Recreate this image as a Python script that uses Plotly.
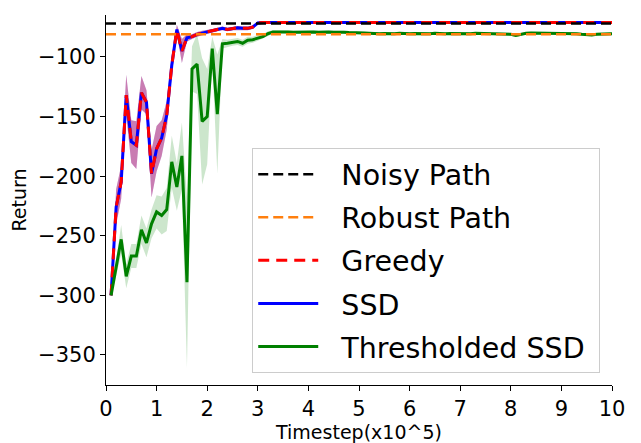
import plotly.graph_objects as go

# ---------------- data ----------------
timesteps = [round(0.1 * i, 1) for i in range(1, 101)]  # x10^5

noisy_path_return = -72.0
robust_path_return = -81.0

ssd_mean = [
    -300, -226, -205, -132, -171, -174, -130, -138, -198, -177,
    -168, -149, -107, -77, -95, -84, -83, -81, -80, -79,
    -78, -77, -76, -77, -76, -75.5, -76, -76, -75, -71.5,
    -71, -71, -71.2, -71, -70.8, -71, -71, -71.2, -71, -71,
    -70.8, -71, -71, -71, -71.2, -71, -71, -70.8, -71, -71,
    -71, -71.2, -71, -71, -71, -70.8, -71, -71, -71, -71.2,
    -71, -71, -71, -71, -70.8, -71, -71, -71.2, -71, -71,
    -71, -71, -70.8, -71, -71, -71, -71.2, -71, -71, -71,
    -71, -70.8, -71, -71, -71, -71, -71.2, -71, -71, -71,
    -71, -71, -70.8, -71, -71, -71, -71, -71.2, -71, -71,
]
ssd_std = [
    1, 15, 14, 17, 18, 20, 14, 10, 20, 19,
    15, 12, 8, 4, 10, 3, 2, 2, 2, 1.5,
    1.5, 1.5, 1.5, 1.5, 1.5, 1.5, 1.5, 1.5, 1.5, 1,
] + [0.8] * 70

greedy_mean = list(ssd_mean)
greedy_std = list(ssd_std)

thr_mean = [
    -300, -276, -253, -284, -267, -267, -245, -256, -240, -230,
    -233, -228, -188, -209, -183, -289, -110, -106, -154, -150,
    -93, -148, -89, -88.5, -87.5, -87, -88.5, -86, -85.5, -84,
    -83, -80.5, -79, -79, -78.8, -79, -79.2, -79, -78.8, -79,
    -79, -79.2, -79, -79, -79.3, -79, -79.2, -79.5, -79.5, -79.8,
    -80, -80.2, -80.5, -80.5, -80.3, -80.5, -80.5, -80.2, -80.5, -80.5,
    -80.3, -80.5, -80.5, -80.5, -80.2, -80.5, -80.5, -80.3, -80.5, -80.5,
    -80.3, -80.5, -80.2, -80.3, -80, -80, -80.2, -80.3, -80.5, -81,
    -82, -81, -80.2, -80, -80, -80.2, -80, -80, -80.3, -80.2,
    -80, -80.3, -80.5, -81, -81.5, -81.5, -81, -80.8, -80.5, -80.5,
]
thr_std = [
    1, 8, 12, 10, 10, 10, 12, 12, 12, 14,
    16, 18, 22, 20, 28, 72, 19, 25, 53, 40,
    10, 50, 4, 3, 3, 3, 3, 3, 2.5, 2.5,
    2, 2, 1.5,
] + [1.2] * 67

x_range = [0, 10]
y_range = [-375.2, -64.8]
x_ticks = list(range(0, 11))
y_ticks = [-350, -300, -250, -200, -150, -100]

# ---------------- figure ----------------
fig = go.Figure()


def band(mean, std, color):
    upper = [m + s for m, s in zip(mean, std)]
    lower = [m - s for m, s in zip(mean, std)]
    return go.Scatter(
        x=timesteps + timesteps[::-1],
        y=upper + lower[::-1],
        fill="toself",
        fillcolor=color,
        line=dict(width=0),
        hoverinfo="skip",
        showlegend=False,
        mode="lines",
    )


fig.add_trace(band(ssd_mean, ssd_std, "rgba(0,0,255,0.3)"))
fig.add_trace(band(greedy_mean, greedy_std, "rgba(255,0,0,0.3)"))
fig.add_trace(band(thr_mean, thr_std, "rgba(0,128,0,0.2)"))

pad = "\u00a0\u00a0"
tail = "\u00a0"
fig.add_trace(go.Scatter(
    x=timesteps, y=ssd_mean, mode="lines", name=pad + "SSD" + tail,
    line=dict(color="#0000ff", width=3), legendrank=4, legendgroup="g4"))
fig.add_trace(go.Scatter(
    x=timesteps, y=greedy_mean, mode="lines", name=pad + "Greedy" + tail,
    line=dict(color="#ff0000", width=3, dash="11px,7px"), legendrank=3, legendgroup="g3"))
fig.add_trace(go.Scatter(
    x=timesteps, y=thr_mean, mode="lines", name=pad + "Thresholded SSD" + tail,
    line=dict(color="#008000", width=3), legendrank=5, legendgroup="g5"))
fig.add_trace(go.Scatter(
    x=x_range, y=[noisy_path_return] * 2, mode="lines", name=pad + "Noisy Path" + tail,
    line=dict(color="#000000", width=2.5, dash="10px,5px"), legendrank=1, legendgroup="g1"))
fig.add_trace(go.Scatter(
    x=x_range, y=[robust_path_return] * 2, mode="lines", name=pad + "Robust Path" + tail,
    line=dict(color="#ff7f0e", width=2.5, dash="10px,5px"), legendrank=2, legendgroup="g2"))

axis_common = dict(
    showline=True, linecolor="#000000", linewidth=1,
    ticks="outside", ticklen=5, tickwidth=1, tickcolor="#000000",
    showgrid=False, zeroline=False, mirror=False, automargin=False,
    tickfont=dict(size=21, color="#000000"),
)

fig.update_xaxes(
    range=x_range, tickvals=x_ticks,
    title=dict(text="Timestep(x10^5)", font=dict(size=19, color="#000000"), standoff=2),
    **axis_common)
fig.update_yaxes(
    range=y_range, tickvals=y_ticks,
    title=dict(text="Return", font=dict(size=19, color="#000000"), standoff=8),
    **axis_common)

# page body has an 8px margin: size the figure so the plot area lands at 106..612 x 15..385
fig.update_layout(
    width=633, height=435,
    margin=dict(l=98, r=29, t=7, b=58),
    plot_bgcolor="white", paper_bgcolor="white",
    font=dict(family="DejaVu Sans", color="#000000"),
    legend=dict(
        x=0.289, y=0.64, xanchor="left", yanchor="top",
        bgcolor="white", bordercolor="#cccccc", borderwidth=1,
        font=dict(size=28.5, color="#000000"),
        tracegroupgap=3, itemwidth=60,
    ),
)

fig.write_html("out.html")
